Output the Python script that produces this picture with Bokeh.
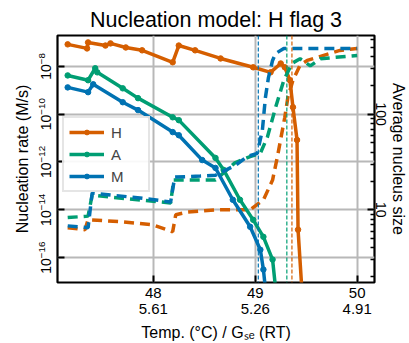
import numpy as np
from bokeh.plotting import figure
from bokeh.models import (Range1d, LogScale, LogAxis, LinearAxis, FixedTicker, LogTickFormatter,
                          NumeralTickFormatter, Span, Legend, LegendItem)
from bokeh.embed import file_html
from bokeh.resources import INLINE

FONT = "Liberation Sans"
C_H, C_A, C_M = "#d55e00", "#009e73", "#0072b2"

# ---- data ----
# nucleation rate (log10 M/s) vs temperature
temp_rate_H = [47.16, 47.35, 47.36, 47.53, 47.58, 47.73, 47.89, 48.19, 48.25, 48.41, 48.66,
               48.98, 49.15, 49.25, 49.29, 49.34, 49.37, 49.41, 49.42, 49.46]
log_rate_H = [-7.08, -7.25, -7.00, -7.13, -7.04, -7.21, -7.33, -7.83, -7.13, -7.33, -7.67,
              -8.04, -8.25, -7.88, -8.04, -8.58, -9.71, -11.08, -14.83, -17.5]

temp_rate_A = [47.16, 47.36, 47.43, 47.45, 47.70, 47.85, 48.19, 48.25, 48.61, 48.69, 48.85,
               48.98, 49.08, 49.17, 49.20]
log_rate_A = [-8.38, -8.58, -8.08, -8.25, -8.92, -9.33, -10.13, -10.25, -11.83, -12.33, -13.58,
              -14.42, -15.13, -16.08, -17.3]

temp_rate_M = [47.16, 47.36, 47.41, 47.70, 47.85, 48.19, 48.25, 48.48, 48.61, 48.78, 48.95,
               49.05, 49.08, 49.10]
log_rate_M = [-8.88, -9.08, -8.75, -9.50, -9.83, -10.75, -10.88, -11.92, -12.25, -13.58, -14.71,
              -15.67, -16.50, -17.3]

# average nucleus size vs temperature
temp_size_H = [47.16, 47.33, 47.36, 47.70, 47.99, 48.19, 48.22, 48.34, 48.61, 48.95, 49.08,
               49.17, 49.22, 49.29, 49.32, 49.37, 49.44, 49.51, 49.83, 50.00]
size_H = [6.5, 6.2, 7.9, 7.5, 7.0, 5.9, 8.9, 9.5, 10, 10, 12.7,
          20.5, 37, 93, 150, 226, 326, 365, 464, 487]

temp_size_A = [47.16, 47.36, 47.40, 47.58, 47.87, 48.17, 48.20, 48.61, 48.80, 48.95, 49.05,
               49.12, 49.20, 49.28, 49.36, 49.44, 49.54, 49.64, 50.00]
size_A = [8.3, 8.6, 14.3, 13.6, 12.7, 11.8, 20.5, 20.5, 31, 36, 39,
          58, 118, 226, 340, 380, 320, 380, 412]

temp_size_M = [47.16, 47.36, 47.40, 47.58, 47.87, 48.17, 48.21, 48.46, 48.61, 48.80, 48.92,
               49.02, 49.07, 49.10, 49.13, 49.17, 49.20, 49.28, 50.00]
size_M = [6.8, 6.5, 15, 14.3, 13.3, 12.1, 22, 22.6, 23, 29, 36,
          39, 68, 150, 243, 365, 431, 487, 487]

# vertical marker lines
vline_temps = [49.03, 49.31, 49.36]
vline_colors = [C_M, C_A, C_H]

# axis ticks
x_ticks = [48, 49, 50]
x_tick_labels = {48: "48", 49: "49", 50: "50"}
gse_tick_labels = {48: "5.61", 49: "5.26", 50: "4.91"}
rate_ticks = [1e-16, 1e-14, 1e-12, 1e-10, 1e-8]
size_ticks = [10, 100]
size_minor = [2, 3, 4, 5, 6, 7, 8, 9, 20, 30, 40, 50, 60, 70, 80, 90, 200, 300, 400, 500, 600]

p = figure(width=409, height=343, x_range=Range1d(47.06, 50.17),
           y_range=Range1d(10 ** -17.04, 10 ** -6.71), y_axis_type="log",
           output_backend="svg", toolbar_location=None,
           title="Nucleation model: H flag 3",
           min_border_left=57, min_border_right=35, min_border_top=35, min_border_bottom=60)

p.title.text_font = FONT
p.title.text_font_size = "21.5px"
p.title.text_font_style = "normal"
p.title.text_color = "black"
p.title.align = "center"
p.title.vertical_align = "middle"
p.title.standoff = 6

p.outline_line_color = "black"
p.outline_line_width = 2.2
p.background_fill_color = "white"
p.border_fill_color = "white"

p.extra_y_ranges = {"size": Range1d(1.74, 665)}
p.extra_y_scales = {"size": LogScale()}

ax_r = LogAxis(y_range_name="size",
               ticker=FixedTicker(ticks=size_ticks, minor_ticks=size_minor),
               formatter=NumeralTickFormatter(format="0"),
               axis_label="Average nucleus size")
p.add_layout(ax_r, "right")

xa = p.xaxis[0]
xa.ticker = FixedTicker(ticks=x_ticks)
xa.major_label_overrides = x_tick_labels

xa2 = LinearAxis(ticker=FixedTicker(ticks=x_ticks), major_label_overrides=gse_tick_labels,
                 axis_label="Temp. (°C) / Gₛₑ (RT)")
p.add_layout(xa2, "below")

ya = p.yaxis[0]
ya.ticker = FixedTicker(ticks=rate_ticks)
ya.formatter = LogTickFormatter()
ya.axis_label = "Nucleation rate (M/s)"
ya.major_label_orientation = "vertical"
ax_r.major_label_orientation = "vertical"
if "axis_label_orientation" in ax_r.properties():
    ax_r.axis_label_orientation = "vertical"

for ax in (xa, xa2, ya, ax_r):
    ax.axis_line_color = None
    ax.major_tick_in = 7
    ax.major_tick_out = 0
    ax.major_tick_line_width = 2
    ax.major_tick_line_color = "black"
    ax.minor_tick_in = 4
    ax.minor_tick_out = 0
    ax.minor_tick_line_width = 1.5
    ax.minor_tick_line_color = "black"
    ax.major_label_text_font = FONT
    ax.major_label_text_font_size = "15px"
    ax.major_label_text_color = "black"
    ax.axis_label_text_font = FONT
    ax.axis_label_text_font_size = "16px"
    ax.axis_label_text_font_style = "normal"
    ax.axis_label_text_color = "black"

ya.major_label_text_font_size = "14px"
ax_r.major_label_text_font_size = "14px"
xa2.major_tick_line_color = None
xa2.minor_tick_line_color = None
xa.major_label_standoff = 5
xa2.major_label_standoff = 3
xa2.axis_label_standoff = 7
ya.major_label_standoff = 7
ya.axis_label_standoff = 3
ax_r.major_label_standoff = 1
ax_r.axis_label_standoff = 1

p.xgrid.ticker = FixedTicker(ticks=x_ticks)
p.ygrid.ticker = FixedTicker(ticks=rate_ticks)
for g in (p.xgrid[0], p.ygrid[0]):
    g.grid_line_color = "#b8b8b8"
    g.grid_line_width = 2

LW = 3.5
items = []
for lab, col, tr, lr, ts, sz in (("H", C_H, temp_rate_H, log_rate_H, temp_size_H, size_H),
                                 ("A", C_A, temp_rate_A, log_rate_A, temp_size_A, size_A),
                                 ("M", C_M, temp_rate_M, log_rate_M, temp_size_M, size_M)):
    rate = [10.0 ** v for v in lr]
    l = p.line(tr, rate, line_color=col, line_width=LW)
    s = p.scatter(tr, rate, size=5.5, fill_color=col, line_color=col)
    p.line(ts, sz, line_color=col, line_width=LW, line_dash="10 6", y_range_name="size")
    items.append(LegendItem(label=lab, renderers=[l, s]))

for t, c in zip(vline_temps, vline_colors):
    p.add_layout(Span(location=t, dimension="height", line_color=c, line_width=1.2,
                      line_dash="4 2"))

leg = Legend(items=items, location=(5, 90))
leg.label_text_font = FONT
leg.label_text_font_size = "15px"
leg.glyph_width = 35
leg.glyph_height = 12
leg.label_height = 18
leg.label_width = 32
leg.label_standoff = 7
leg.spacing = 4
leg.padding = 5
leg.margin = 0
leg.border_line_color = "#cccccc"
leg.border_line_width = 2
leg.background_fill_alpha = 0.9
p.add_layout(leg)

open("out.html", "w").write(file_html(p, INLINE))
